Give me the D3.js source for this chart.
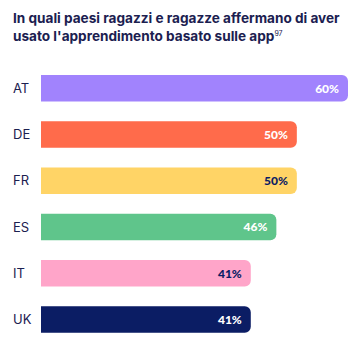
<!DOCTYPE html>
<html>
<head>
<meta charset="utf-8">
<style>
	body { margin: 0; background: #fff; }
	svg { display: block; }
</style>
</head>
<body>
<div id="chart"></div>
<script src="https://cdn.jsdelivr.net/npm/d3@7"></script>
<script>

var countries = ["AT", "DE", "FR", "ES", "IT", "UK"];
var values = [60, 50, 50, 46, 41, 41];
var barColors = ["#a183fd", "#ff6b4b", "#ffd466", "#5fc58b", "#ffa5c9", "#0b1d64"];
var labelColors = ["#ffffff", "#ffffff", "#0b1d64", "#ffffff", "#0b1d64", "#ffffff"];
var titleLines = ["In quali paesi ragazzi e ragazze affermano di aver", "usato l'apprendimento basato sulle app"];
var footnote = "97";

var width = 358, height = 346;
var navy = "#1b2050";

var svg = d3.select("#chart").append("svg")
	.attr("width", width)
	.attr("height", height);

// title
var title = svg.append("text")
	.attr("x", 13)
	.attr("font-family", "Inter, 'Noto Sans', sans-serif")
	.attr("font-size", 13.6)
	.attr("font-weight", 700)
	.attr("fill", navy);
title.append("tspan").attr("x", 13).attr("y", 23).text(titleLines[0]);
title.append("tspan").attr("x", 13).attr("y", 41).text(titleLines[1]);
title.append("tspan")
	.attr("dy", -5)
	.attr("font-size", 7)
	.attr("font-weight", 400)
	.text(footnote);

var x = d3.scaleLinear().domain([0, 60]).range([41, 348]);
var y = d3.scaleBand().domain(countries).range([65.7, 342]).paddingInner(0.427).paddingOuter(0.2);

var rows = svg.selectAll("g.row")
	.data(countries)
	.enter().append("g")
	.attr("class", "row");

var r = 6;
rows.append("path")
	.attr("fill", (d, i) => barColors[i])
	.attr("d", function(d, i) {
		var x0 = x(0), x1 = x(values[i]), y0 = y(d), h = y.bandwidth();
		var p = d3.path();
		p.moveTo(x0, y0);
		p.lineTo(x1 - r, y0);
		p.arcTo(x1, y0, x1, y0 + r, r);
		p.lineTo(x1, y0 + h - r);
		p.arcTo(x1, y0 + h, x1 - r, y0 + h, r);
		p.lineTo(x0, y0 + h);
		p.closePath();
		return p.toString();
	});

rows.append("text")
	.attr("x", 13)
	.attr("y", d => y(d) + y.bandwidth() / 2)
	.attr("dy", "0.35em")
	.attr("font-family", "Inter, 'Noto Sans', sans-serif")
	.attr("font-size", 13)
	.attr("fill", navy)
	.text(d => d);

rows.append("text")
	.attr("x", (d, i) => x(values[i]) - 9)
	.attr("y", d => y(d) + y.bandwidth() / 2)
	.attr("dy", "0.36em")
	.attr("text-anchor", "end")
	.attr("font-family", "Lato, 'Noto Sans', sans-serif")
	.attr("font-size", 12)
	.attr("font-weight", 900)
	.attr("fill", (d, i) => labelColors[i])
	.text((d, i) => values[i] + "%");

</script>
</body>
</html>
